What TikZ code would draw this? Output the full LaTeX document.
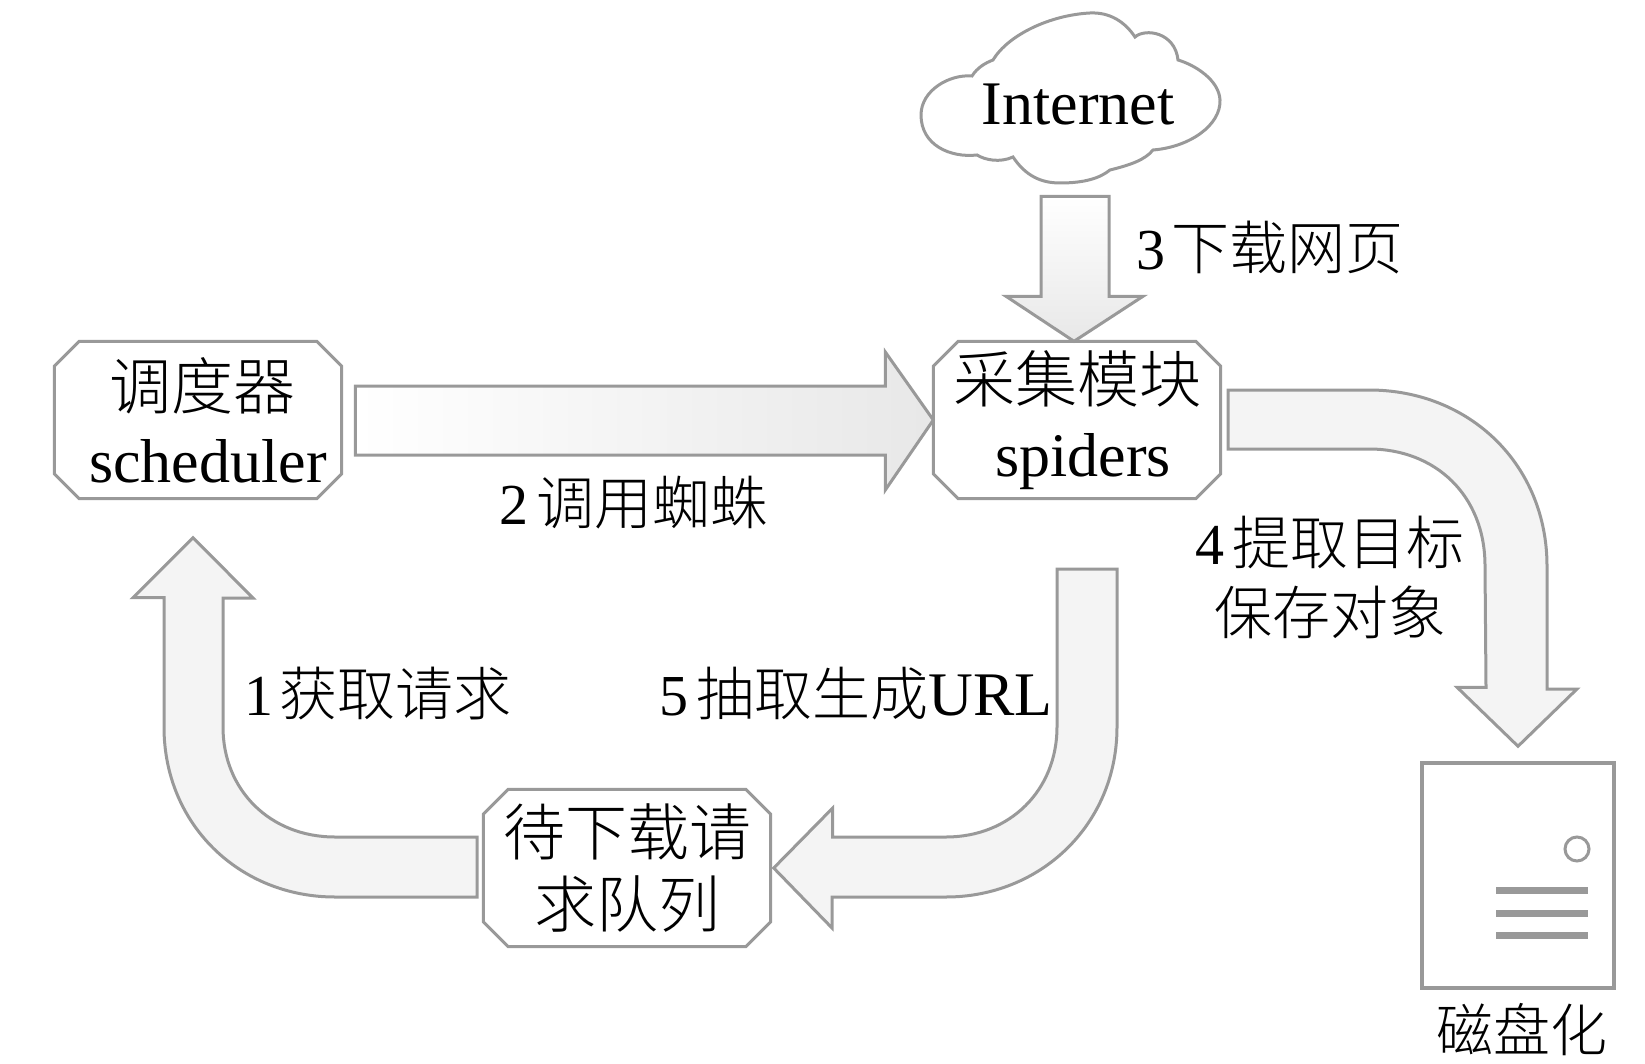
\documentclass[tikz,border=0pt]{standalone}
\usepackage{fontspec}
\setmainfont{Liberation Serif}
\newfontfamily\cjk[UprightFont=* Light]{Noto Sans CJK SC}
\usetikzlibrary{calc}
\definecolor{edgegray}{HTML}{999999}
\definecolor{fillgray}{HTML}{F4F4F4}
\newcommand{\lbl}[1]{\fontsize{#1}{#1}\selectfont}
\newcommand{\chamferoutline}[1]{%
  \draw[edgegray,line width=3pt,line join=miter]
    ($(#1.north west)+(25,0)$) -- ($(#1.north east)+(-25,0)$) -- ($(#1.north east)+(0,25)$)
    -- ($(#1.south east)+(0,-25)$) -- ($(#1.south east)+(-25,0)$) -- ($(#1.south west)+(25,0)$)
    -- ($(#1.south west)+(0,-25)$) -- ($(#1.north west)+(0,25)$) -- cycle;}
\tikzset{
  x=1pt,y=-1pt,
  boxnode/.style={rectangle,minimum width=287pt,minimum height=157pt,inner sep=0pt,
    align=center,text=black,text width=287pt},
  blockarrow/.style={draw=edgegray,line width=3pt,fill=fillgray,line join=miter},
  txt/.style={inner sep=0pt,text=black,align=center},
}
\begin{document}
\begin{tikzpicture}
\useasboundingbox (0,0) rectangle (1645,1064);
% boxes
\node[boxnode,font=\fontsize{62}{73}\selectfont] (sched) at (198,420) {\hspace{8pt}{\cjk 调度器}\\ \hspace{20pt}scheduler};
\chamferoutline{sched}
\node[boxnode,font=\fontsize{62}{74}\selectfont] (spiders) at (1077,420) {{\cjk 采集模块}\\ \hspace{12pt}spiders};
\chamferoutline{spiders}
\node[boxnode,font=\fontsize{62}{72}\selectfont] (queue) at (627,868) {{\cjk 待下载请}\\ {\cjk 求队列}};
\chamferoutline{queue}
% disk
\node[draw=edgegray,line width=3.5pt,fill=white,minimum width=192pt,minimum height=225pt,inner sep=0pt] (disk) at (1518,875.5) {};
\node[draw=edgegray,line width=3pt,circle,minimum size=24pt,inner sep=0pt] (led) at (1577,849) {};
\foreach \n/\yy in {a/890,b/913,c/935}{
  \node[fill=edgegray,minimum width=92pt,minimum height=7pt,inner sep=0pt] (slot\n) at (1542,\yy) {};
}
% cloud
\draw[edgegray,line width=3pt,fill=white] (972,76)
  .. controls (977,68) and (985,63) .. (993,60)
  .. controls (1008,35) and (1050,15) .. (1090,13)
  .. controls (1110,12) and (1125,22) .. (1135,37)
  .. controls (1145,28) and (1175,32) .. (1178,60)
  .. controls (1195,65) and (1219,80) .. (1220,100)
  .. controls (1221,125) and (1190,147) .. (1153,150)
  .. controls (1145,160) and (1130,165) .. (1110,170)
  .. controls (1100,178) and (1085,183) .. (1060,183)
  .. controls (1040,183) and (1025,175) .. (1013,157)
  .. controls (1000,163) and (985,160) .. (977,155)
  .. controls (950,158) and (921,145) .. (921,115)
  .. controls (921,90) and (950,74) .. (972,76) -- cycle;
\node[txt] (cloud) at (1078,105) {\lbl{62}Internet};
% arrows
\coordinate (tipC) at ([xshift=-3pt]spiders.north);
\draw[blockarrow,top color=white,bottom color=fillgray!95!black] (tipC) -- ++(-68,-45) -- ++(35,0) -- ++(0,-100) -- ++(68,0) -- ++(0,100) -- ++(34,0) -- cycle;
\coordinate (tipB) at (spiders.west);
\draw[blockarrow,left color=white,right color=fillgray!95!black] (tipB) -- ++(-48,-68) -- ++(0,34) -- ++(-530,0) -- ++(0,69) -- ++(530,0) -- ++(0,35) -- cycle;
\coordinate (tipD) at ([yshift=15pt]disk.north);
\draw[blockarrow] (tipD) -- ++(-61,-59) -- ++(29,0) -- (1485,566)
  .. controls (1485,495) and (1435,449) .. (1369,449) -- (1228,449) -- (1228,390) -- (1369,390)
  .. controls (1470,390) and (1547,465) .. (1547,566) -- (1547,689) -- ++(30,0) -- cycle;
\coordinate (tipE) at ([xshift=3pt]queue.east);
\draw[blockarrow] (tipE) -- ++(59,-60) -- ++(0,29) -- (946,837)
  .. controls (1010,837) and (1057,790) .. (1057,727) -- (1057,569) -- (1117,569) -- (1117,727)
  .. controls (1117,825) and (1040,897) .. (946,897) -- (832,897) -- (832,928) -- cycle;
\coordinate (tipA) at ([xshift=-5pt,yshift=-39pt]sched.south);
\draw[blockarrow] (tipA) -- ++(-60,60) -- ++(31,0) -- (164,727)
  .. controls (164,825) and (240,897) .. (335,897) -- (477,897) -- (477,837) -- (335,837)
  .. controls (270,837) and (223,790) .. (223,727) -- (223,598) -- (253,598) -- cycle;
% labels
\node[txt] (l3) at (1270,248) {\lbl{58}3\hspace{6pt}{\cjk 下载网页}};
\node[txt] (l2) at (634,503) {\lbl{58}2\hspace{8pt}{\cjk 调用蜘蛛}};
\node[txt] (l4) at (1330,542) {\lbl{58}4\hspace{8pt}{\cjk 提取目标}};
\node[txt] (l4b) at (1330,612) {\lbl{58}{\cjk 保存对象}};
\node[txt] (l1) at (378,694) {\lbl{58}1\hspace{6pt}{\cjk 获取请求}};
\node[txt] (l5) at (856,694) {\lbl{58}5\hspace{8pt}{\cjk 抽取生成}\lbl{62}URL};
\node[txt] (ldisk) at (1522,1030) {\lbl{57}{\cjk 磁盘化}};
\end{tikzpicture}
\end{document}
